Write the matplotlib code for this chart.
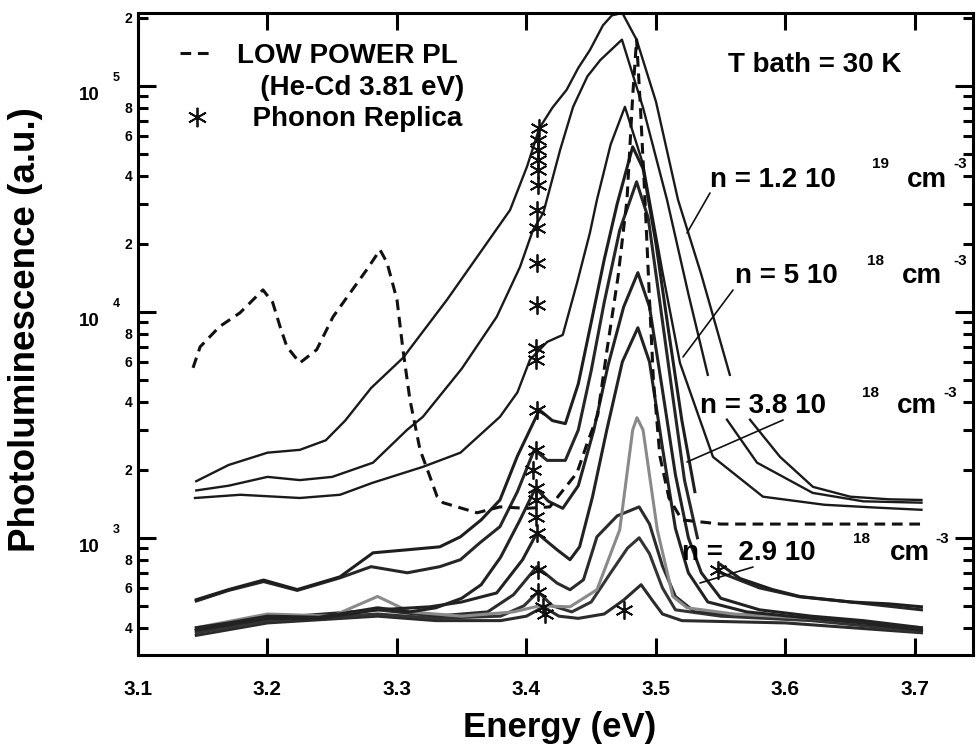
import matplotlib
matplotlib.use("Agg")
import matplotlib.pyplot as plt
import numpy as np
from matplotlib.lines import Line2D
from matplotlib.ticker import LogLocator, FuncFormatter, NullFormatter

nan = np.nan

# photoluminescence spectra (energy in eV, PL in a.u.)
# upper group (high background)
energy_a = [3.145, 3.17, 3.20, 3.225, 3.245, 3.26, 3.28, 3.3046, 3.3386, 3.364, 3.3873, 3.4004, 3.41, 3.42,
            3.431, 3.44, 3.449, 3.459, 3.466, 3.474, 3.485, 3.50, 3.517, 3.535, 3.557, 3.565, 3.5726, 3.5958,
            3.6212, 3.65, 3.68, 3.705]
pl_a = [1780, 2100, 2380, 2450, 2700, 3300, 4600, 6250, 11300, 18200, 28200, 43900, 65000, 80000,
        96000, 120000, 144000, 185000, 205000, 210000, 160000, 85000, 31300, 14600, 5260, nan, 3330, 2280,
        1680, 1520, 1480, 1470]

energy_b = [3.145, 3.17, 3.20, 3.225, 3.25, 3.2815, 3.3077, 3.32, 3.35, 3.377, 3.395, 3.405, 3.413, 3.426,
            3.436, 3.447, 3.457, 3.4737, 3.49, 3.5085, 3.525, 3.540, 3.548, 3.5548, 3.578, 3.621, 3.66, 3.705]
pl_b = [1620, 1700, 1860, 1800, 1860, 2150, 3000, 3430, 5600, 9500, 15800, 23000, 27400, 52100,
        80700, 110000, 130000, 160000, 80000, 31300, 12000, 5260, nan, 3330, 2150, 1580, 1450, 1430]

energy_c = [3.144, 3.179, 3.225, 3.256, 3.281, 3.32, 3.349, 3.3795, 3.393, 3.4027, 3.416, 3.428, 3.439,
            3.449, 3.4544, 3.465, 3.476, 3.49, 3.505, 3.5185, 3.544, 3.5826, 3.63, 3.67, 3.705]
pl_c = [1500, 1550, 1500, 1550, 1750, 2060, 2380, 3430, 4400, 6140, 7360, 7900, 13400,
        22400, 31300, 55000, 80700, 45000, 15000, 5940, 2280, 1520, 1400, 1360, 1330]

# low power PL (He-Cd), dashed
energy_low = [3.1425, 3.148, 3.163, 3.1788, 3.1965, 3.204, 3.2097, 3.215, 3.225, 3.238,
              3.2506, 3.2637, 3.2768, 3.2869, 3.2923, 3.30, 3.3046, 3.31, 3.3178, 3.3255,
              3.331, 3.3355, 3.3618, 3.3795, 3.40, 3.418, 3.439, 3.447, 3.455, 3.4622,
              3.4707, 3.4776, 3.482, 3.485, 3.488, 3.4915, 3.495, 3.498, 3.503, 3.51,
              3.52, 3.55, 3.60, 3.65, 3.705]
pl_low = [5650, 7000, 8600, 9900, 12500, 11000, 8600, 7000, 5940, 6800,
          9500, 12100, 15400, 18800, 16500, 11300, 6800, 4080, 2450, 1860,
          1520, 1430, 1290, 1370, 1350, 1370, 1940, 2630, 3500, 6800,
          14300, 31300, 90000, 160000, 80000, 31300, 11300, 5000, 2300, 1500,
          1200, 1150, 1150, 1150, 1150]

# lower group
energy_d = [3.145, 3.17, 3.197, 3.223, 3.256, 3.2815, 3.308, 3.333, 3.349, 3.365, 3.3795, 3.393, 3.41,
            3.42, 3.43, 3.44, 3.45, 3.46, 3.47, 3.482, 3.49, 3.50, 3.51, 3.52, 3.53, 3.54, 3.55,
            3.565, 3.59, 3.611, 3.65, 3.68, 3.705]
pl_d = [532, 590, 650, 590, 672, 858, 885, 912, 1010, 1200, 1470, 2300, 3680,
        3300, 3200, 4800, 9000, 17000, 30000, 53700, 43000, 20000, 8000, 3300, 1600, nan, 760,
        660, 590, 550, 520, 510, 495]

energy_e = [3.145, 3.17, 3.197, 3.223, 3.256, 3.28, 3.308, 3.333, 3.349, 3.364, 3.3795, 3.393, 3.406,
            3.416, 3.43, 3.44, 3.45, 3.46, 3.472, 3.485, 3.494, 3.503, 3.513, 3.522, 3.532, 3.541,
            3.55, 3.58, 3.611, 3.65, 3.705]
pl_e = [525, 585, 640, 585, 665, 745, 700, 745, 800, 950, 1120, 1600, 2450,
        2200, 2200, 3000, 5500, 11000, 23000, 37600, 26000, 11000, 4200, 1800, 1000, nan,
        700, 600, 548, 520, 480]

energy_f = [3.145, 3.17, 3.2, 3.24, 3.285, 3.31, 3.33, 3.35, 3.365, 3.38, 3.395, 3.407, 3.417, 3.428,
            3.44, 3.452, 3.463, 3.475, 3.486, 3.495, 3.505, 3.515, 3.525, 3.535, 3.55, 3.58, 3.62,
            3.66, 3.705]
pl_f = [400, 420, 450, 445, 490, 470, 490, 540, 620, 820, 1200, 1660, 1450, 1350,
        1700, 3000, 5800, 10500, 14900, 10500, 4500, 1900, 1000, 700, 540, 480, 450,
        430, 400]

energy_g = [3.145, 3.2, 3.24, 3.285, 3.3255, 3.35, 3.377, 3.397, 3.408, 3.4236, 3.4336, 3.441, 3.451,
            3.462, 3.474, 3.486, 3.495, 3.505, 3.515, 3.525, 3.54, 3.57, 3.62, 3.66, 3.705]
pl_g = [390, 440, 440, 480, 495, 520, 570, 800, 1050, 885, 800, 912, 1520,
        3000, 6000, 8500, 6000, 2500, 1100, 700, 520, 470, 440, 420, 390]

energy_h = [3.145, 3.2, 3.25, 3.285, 3.31, 3.35, 3.39, 3.41, 3.4336, 3.4544, 3.472, 3.482, 3.4853,
            3.49, 3.501, 3.513, 3.524, 3.56, 3.62, 3.705]
pl_h = [400, 460, 450, 550, 470, 450, 470, 500, 495, 589, 1085, 3000, 3400,
        3000, 1085, 550, 490, 460, 440, 400]

energy_i = [3.145, 3.2, 3.285, 3.33, 3.37, 3.39, 3.408, 3.4236, 3.4336, 3.444, 3.4544, 3.47, 3.487,
            3.495, 3.505, 3.515, 3.53, 3.58, 3.62, 3.705]
pl_i = [390, 440, 480, 450, 470, 560, 745, 630, 589, 652, 1010, 1250, 1370,
        1150, 750, 550, 470, 450, 440, 390]

energy_j = [3.145, 3.2, 3.285, 3.33, 3.38, 3.398, 3.409, 3.42, 3.435, 3.45, 3.465, 3.478, 3.487,
            3.495, 3.505, 3.515, 3.55, 3.62, 3.705]
pl_j = [380, 430, 460, 440, 450, 500, 577, 500, 470, 520, 700, 900, 1000,
        850, 600, 480, 450, 430, 385]

energy_k = [3.145, 3.2, 3.285, 3.33, 3.38, 3.40, 3.413, 3.425, 3.44, 3.46, 3.475, 3.4885, 3.497,
            3.505, 3.52, 3.6, 3.705]
pl_k = [370, 420, 450, 430, 430, 450, 495, 450, 440, 460, 530, 620, 530,
        460, 430, 420, 380]

# phonon replica marks
energy_ph = [3.410, 3.409, 3.409, 3.409, 3.409, 3.409, 3.408, 3.408, 3.408, 3.408, 3.407, 3.407, 3.408,
             3.407, 3.405, 3.407, 3.407, 3.407, 3.408, 3.409, 3.409, 3.413, 3.414, 3.475, 3.548]
pl_ph = [65200, 57700, 52100, 47100, 42500, 36400, 28200, 23500, 16500, 10700, 6930, 6140, 3680,
         2450, 2000, 1660, 1470, 1240, 1050, 721, 577, 495, 460, 480, 720]

x_ticks = [3.1, 3.2, 3.3, 3.4, 3.5, 3.6, 3.7]

plt.rcParams["font.family"] = ["Liberation Sans", "DejaVu Sans"]
plt.rcParams["font.weight"] = "bold"

fig = plt.figure(figsize=(9.78, 7.5), dpi=100)
ax = fig.add_axes([0.1411, 0.1267, 0.8538, 0.856])

#lower group first so the upper curves sit on top
lower = [(energy_k, pl_k, "#2b2b2b"), (energy_j, pl_j, "#333333"), (energy_i, pl_i, "#2b2b2b"),
         (energy_h, pl_h, "#8a8a8a"), (energy_g, pl_g, "#222222"), (energy_f, pl_f, "#222222"),
         (energy_e, pl_e, "#262626"), (energy_d, pl_d, "#1e1e1e")]
for en, pl, col in lower:
    ax.plot(en, pl, color=col, lw=2.2, solid_joinstyle="round")

for en, pl in [(energy_c, pl_c), (energy_b, pl_b), (energy_a, pl_a)]:
    ax.plot(en, pl, color="#1a1a1a", lw=1.7, solid_joinstyle="round")

ax.plot(energy_low, pl_low, color="#111111", lw=2.2, dashes=(3.5, 2.2))
ax.plot(energy_ph, pl_ph, ls="none", marker=(6, 2, 0), ms=13, mew=1.3, color="#111111")

ax.set_xlim(3.1, 3.7448)
ax.set_yscale("log")
ax.set_ylim(303, 2.1e5)

ax.set_xticks(x_ticks)
ax.xaxis.set_major_formatter(FuncFormatter(lambda v, p: f"{v:.1f}"))
ax.yaxis.set_major_locator(LogLocator(base=10, numticks=10))
ax.yaxis.set_minor_locator(LogLocator(base=10, subs=np.arange(2, 10), numticks=20))
ax.yaxis.set_major_formatter(NullFormatter())

def minor_label(v, pos):
    d = int(round(v / 10 ** np.floor(np.log10(v))))
    return str(d) if d in (2, 4, 6, 8) else ""

ax.yaxis.set_minor_formatter(FuncFormatter(minor_label))

ax.tick_params(axis="both", which="both", direction="in", top=True, right=True, width=2.2)
ax.tick_params(axis="x", which="major", length=12, labelsize=15, pad=18)
ax.tick_params(axis="y", which="major", length=13)
ax.tick_params(axis="y", which="minor", length=7, labelsize=10, pad=4)
for s in ax.spines.values():
    s.set_linewidth(2.2)

# "10 ^n" labels on the decades
for k in (3, 4, 5):
    ax.annotate("10", xy=(0, 10 ** k), xycoords=("axes fraction", "data"), xytext=(-38, -14),
                textcoords="offset pixels", ha="right", va="baseline", fontsize=13.5, annotation_clip=False)
    ax.annotate(str(k), xy=(0, 10 ** k), xycoords=("axes fraction", "data"), xytext=(-25, 5),
                textcoords="offset pixels", ha="left", va="baseline", fontsize=9, annotation_clip=False)

# legend
handles = [Line2D([], [], color="#111111", lw=2.2, dashes=(3.5, 2.2)),
           Line2D([], [], color="none"),
           Line2D([], [], ls="none", marker=(6, 2, 0), ms=14, mew=1.3, color="#111111")]
labels = ["LOW POWER PL", "   (He-Cd 3.81 eV)", "  Phonon Replica"]
ax.legend(handles, labels, loc="upper left", bbox_to_anchor=(0.0503, 0.953), frameon=False, fontsize=20,
          handlelength=1.2, handletextpad=0.85, labelspacing=0.2, borderpad=0, borderaxespad=0)

ax.text(0.7066, 0.9081, "T bath = 30 K", transform=ax.transAxes, fontsize=20, va="baseline")

# density labels: text, exponent, x, baseline, superscript baseline, exponent x, cm x, -3 x
dens = [("n = 1.2 10", "19", 0.685, 0.729, 0.7586, 0.879, 0.921, 0.976),
        ("n = 5 10", "18", 0.715, 0.5794, 0.6075, 0.873, 0.915, 0.976),
        ("n = 3.8 10", "18", 0.673, 0.377, 0.4019, 0.867, 0.909, 0.964),
        ("n =  2.9 10", "18", 0.6515, 0.148, 0.1745, 0.856, 0.9006, 0.9545)]
for txt, ex, x0, yb, ys, xe, xcm, xm in dens:
    ax.text(x0, yb, txt, transform=ax.transAxes, fontsize=20, va="baseline")
    ax.text(xe, ys, ex, transform=ax.transAxes, fontsize=11, va="baseline")
    ax.text(xcm, yb, "cm", transform=ax.transAxes, fontsize=20, va="baseline")
    ax.text(xm, ys, "-3", transform=ax.transAxes, fontsize=11, va="baseline")

leaders = [((0.685, 0.7196), (0.6575, 0.6573)),
           ((0.7126, 0.5685), (0.6527, 0.4642)),
           ((0.7725, 0.366), (0.6575, 0.3006)),
           ((0.7365, 0.137), (0.673, 0.1121))]
for start, tip in leaders:
    ax.annotate("", xy=tip, xytext=start, xycoords="axes fraction",
                arrowprops=dict(arrowstyle="-", lw=1.2, color="#111111", shrinkA=0, shrinkB=0))

fig.text(0.5726, 0.0173, "Energy (eV)", ha="center", va="baseline", fontsize=25)
fig.text(0.0256, 0.56, "Photoluminescence (a.u.)", ha="center", va="center", rotation=90, fontsize=26.5)

fig.savefig("out.png", dpi=100)
